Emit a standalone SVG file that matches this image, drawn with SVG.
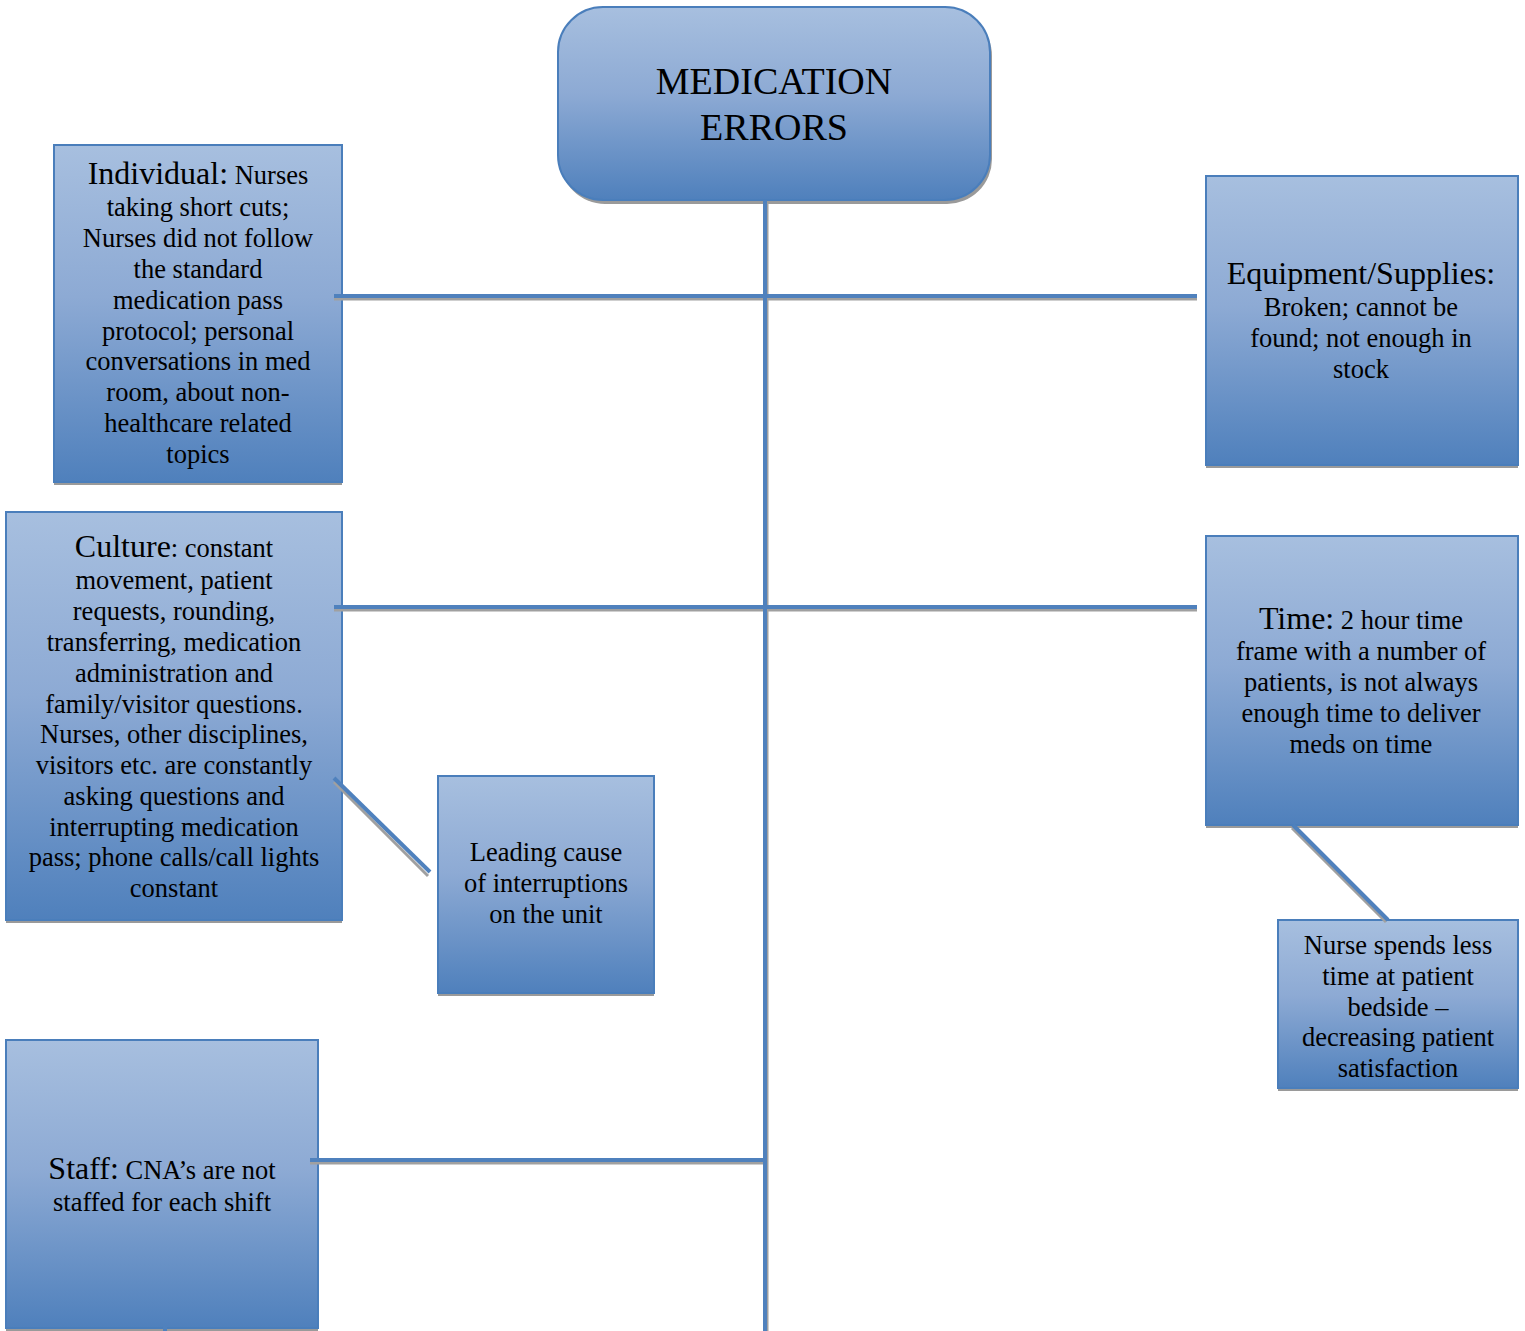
<svg xmlns="http://www.w3.org/2000/svg" width="1525" height="1331" viewBox="0 0 1525 1331">
<defs>
<linearGradient id="g" x1="0" y1="0" x2="0" y2="1">
<stop offset="0" stop-color="#A7BFDF"/>
<stop offset="0.45" stop-color="#8DAAD4"/>
<stop offset="1" stop-color="#4F80BC"/>
</linearGradient>
</defs>
<style>
.box{fill:url(#g);stroke:#4A7EBB;stroke-width:2}
.sh{fill:#9a9a9a}
.ln{stroke:#4F81BD;stroke-width:4;fill:none}
.lsh{stroke:#a0a0a0;stroke-width:3;fill:none}
text{font-family:"Liberation Serif","Times New Roman",serif;fill:#000;text-anchor:middle}
.t{font-size:26.5px}
.h{font-size:32px}
.m{font-size:38px}
</style>
<g id="medication-errors">
<rect class="sh" x="560" y="11" width="432" height="193" rx="45"/>
<rect class="box" x="558" y="7" width="432" height="193" rx="45"/>
<text class="m" x="774" y="94">MEDICATION</text>
<text class="m" x="774" y="140">ERRORS</text>
</g>
<g id="individual">
<rect class="sh" x="54" y="148" width="288" height="337"/>
<rect class="box" x="54" y="145" width="288" height="337"/>
<text class="t" x="198" y="184"><tspan class="h">Individual:</tspan> Nurses</text>
<text class="t" x="198" y="216">taking short cuts;</text>
<text class="t" x="198" y="247">Nurses did not follow</text>
<text class="t" x="198" y="278">the standard</text>
<text class="t" x="198" y="309">medication pass</text>
<text class="t" x="198" y="340">protocol; personal</text>
<text class="t" x="198" y="370">conversations in med</text>
<text class="t" x="198" y="401">room, about non-</text>
<text class="t" x="198" y="432">healthcare related</text>
<text class="t" x="198" y="463">topics</text>
</g>
<g id="equipment">
<rect class="sh" x="1206" y="179" width="312" height="289"/>
<rect class="box" x="1206" y="176" width="312" height="289"/>
<text class="h" x="1361" y="284">Equipment/Supplies:</text>
<text class="t" x="1361" y="316">Broken; cannot be</text>
<text class="t" x="1361" y="347">found; not enough in</text>
<text class="t" x="1361" y="378">stock</text>
</g>
<g id="culture">
<rect class="sh" x="6" y="515" width="336" height="408"/>
<rect class="box" x="6" y="512" width="336" height="408"/>
<text class="t" x="174" y="557"><tspan class="h">Culture</tspan>: constant</text>
<text class="t" x="174" y="589">movement, patient</text>
<text class="t" x="174" y="620">requests, rounding,</text>
<text class="t" x="174" y="651">transferring, medication</text>
<text class="t" x="174" y="682">administration and</text>
<text class="t" x="174" y="713">family/visitor questions.</text>
<text class="t" x="174" y="743">Nurses, other disciplines,</text>
<text class="t" x="174" y="774">visitors etc. are constantly</text>
<text class="t" x="174" y="805">asking questions and</text>
<text class="t" x="174" y="836">interrupting medication</text>
<text class="t" x="174" y="866">pass; phone calls/call lights</text>
<text class="t" x="174" y="897">constant</text>
</g>
<g id="leading-cause">
<rect class="sh" x="438" y="779" width="216" height="217"/>
<rect class="box" x="438" y="776" width="216" height="217"/>
<text class="t" x="546" y="861">Leading cause</text>
<text class="t" x="546" y="892">of interruptions</text>
<text class="t" x="546" y="923">on the unit</text>
</g>
<g id="time">
<rect class="sh" x="1206" y="539" width="312" height="289"/>
<rect class="box" x="1206" y="536" width="312" height="289"/>
<text class="t" x="1361" y="629"><tspan class="h">Time:</tspan> 2 hour time</text>
<text class="t" x="1361" y="660">frame with a number of</text>
<text class="t" x="1361" y="691">patients, is not always</text>
<text class="t" x="1361" y="722">enough time to deliver</text>
<text class="t" x="1361" y="753">meds on time</text>
</g>
<g id="nurse-spends">
<rect class="sh" x="1278" y="923" width="240" height="168"/>
<rect class="box" x="1278" y="920" width="240" height="168"/>
<text class="t" x="1398" y="954">Nurse spends less</text>
<text class="t" x="1398" y="985">time at patient</text>
<text class="t" x="1398" y="1016">bedside –</text>
<text class="t" x="1398" y="1046">decreasing patient</text>
<text class="t" x="1398" y="1077">satisfaction</text>
</g>
<g id="staff">
<rect class="sh" x="6" y="1043" width="312" height="288"/>
<rect class="box" x="6" y="1040" width="312" height="288"/>
<text class="t" x="162" y="1179"><tspan class="h">Staff:</tspan> CNA’s are not</text>
<text class="t" x="162" y="1211">staffed for each shift</text>
</g>
<g id="connectors">
<line class="lsh" x1="767" y1="203" x2="767" y2="1331"/>
<line class="lsh" x1="334" y1="299" x2="1197" y2="299"/>
<line class="lsh" x1="334" y1="610" x2="1197" y2="610"/>
<line class="lsh" x1="310" y1="1163" x2="765" y2="1163"/>
<line class="lsh" x1="334" y1="782" x2="428" y2="876"/>
<line class="lsh" x1="1292" y1="828" x2="1386" y2="922"/>
<line class="ln" x1="765" y1="200" x2="765" y2="1331"/>
<line class="ln" x1="334" y1="296" x2="1197" y2="296"/>
<line class="ln" x1="334" y1="607" x2="1197" y2="607"/>
<line class="ln" x1="310" y1="1160" x2="765" y2="1160"/>
<line class="ln" x1="334" y1="778" x2="430" y2="872"/>
<line class="ln" x1="1293" y1="825" x2="1388" y2="920"/>
<line class="ln" x1="165" y1="1326" x2="165" y2="1331"/>
</g>
</svg>
